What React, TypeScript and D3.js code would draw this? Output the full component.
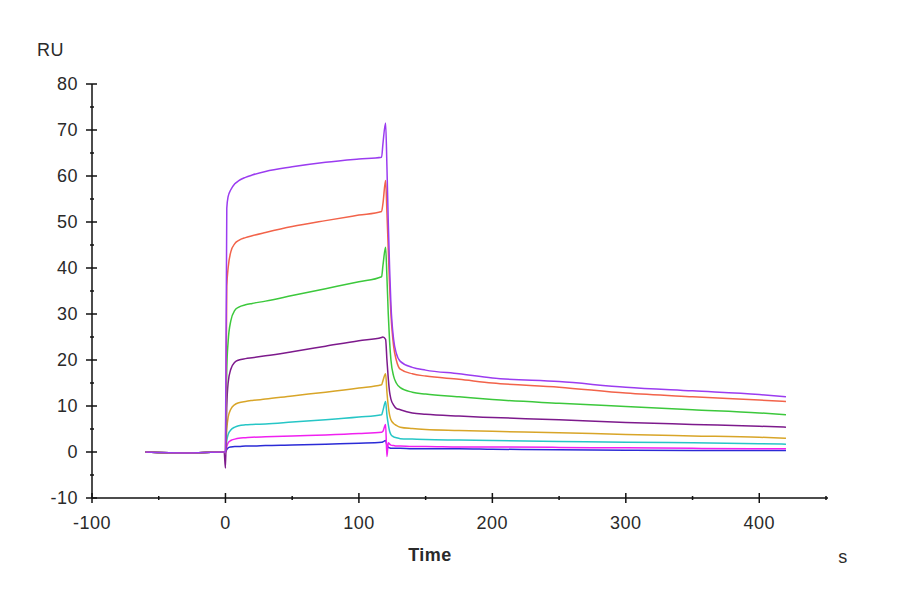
import * as d3 from "d3";

// sample times (s) shared by every sensorgram
const times = [-60, -30, -1, 0, 1, 2, 4, 7, 10, 15, 20, 30, 50, 75, 100, 117, 118, 120, 121, 122, 123, 124, 126, 128, 131, 140, 150, 175, 200, 250, 300, 350, 400, 420];

// response (RU), top curve first
const s1 = [0, -0.2, 0, 0, 53, 55.5, 57, 58.3, 59, 59.7, 60.2, 61, 62, 63, 63.7, 64.1, 67, 71.5, 62, 50, 40, 32, 24.5, 21.5, 19.7, 18.4, 17.8, 17, 16.1, 15.3, 14.1, 13.3, 12.5, 12];
const s2 = [0, -0.2, 0, 0, 36, 40, 43.5, 45.3, 46, 46.6, 47, 47.7, 49, 50.3, 51.5, 52.3, 54, 59, 52, 44, 36, 30, 23, 20, 18, 17, 16.5, 15.8, 15, 14.1, 12.8, 12, 11.3, 11];
const s3 = [0, -0.2, 0, 0, 18, 24, 28.5, 30.8, 31.5, 32, 32.3, 32.8, 34, 35.5, 37, 38.1, 40.5, 44.5, 38, 30, 24, 20, 16.5, 15, 14, 13, 12.6, 12, 11.4, 10.6, 9.9, 9.2, 8.5, 8.1];
const s4 = [0, -0.2, 0, -3.5, 10, 15, 18, 19.5, 20, 20.3, 20.5, 20.9, 21.8, 23, 24.2, 24.9, 25, 24.5, 20, 16, 13, 11.5, 10.2, 9.5, 9.2, 8.5, 8.2, 7.8, 7.5, 7, 6.4, 6, 5.6, 5.4];
const s5 = [0, -0.2, 0, 0, 5, 7.5, 9.3, 10.3, 10.7, 11, 11.2, 11.5, 12.2, 13, 13.9, 14.6, 15.5, 17, 13, 10, 8, 7, 6.2, 5.8, 5.4, 5.1, 4.9, 4.7, 4.5, 4.2, 3.8, 3.5, 3.2, 3];
const s6 = [0, -0.2, 0, 0, 2.5, 3.8, 4.8, 5.4, 5.7, 5.9, 6, 6.1, 6.5, 7, 7.6, 8.1, 9, 11, 8, 6, 4.5, 3.8, 3.3, 3.1, 2.9, 2.8, 2.7, 2.6, 2.5, 2.3, 2.1, 2, 1.8, 1.7];
const s7 = [0, -0.2, 0, 0, 1.2, 2, 2.5, 2.8, 3, 3.1, 3.2, 3.3, 3.5, 3.7, 4, 4.3, 4.5, 6, -1, 2, 1.7, 1.5, 1.4, 1.3, 1.3, 1.2, 1.2, 1.1, 1.1, 1, 0.9, 0.8, 0.7, 0.7];
const s8 = [0, -0.2, 0, 0, 0.5, 0.9, 1.1, 1.2, 1.2, 1.3, 1.3, 1.4, 1.5, 1.7, 1.9, 2.1, 2.2, 2.5, 1.5, 1, 0.9, 0.8, 0.8, 0.8, 0.8, 0.7, 0.7, 0.7, 0.6, 0.5, 0.4, 0.3, 0.3, 0.3];

const series = [s1, s2, s3, s4, s5, s6, s7, s8];
const colors = ["#9b3cf0", "#f2634a", "#3cc83c", "#7d1a8c", "#d8a528", "#26c6c6", "#f020f0", "#2b2bd6"];

const xTicks = [-100, 0, 100, 200, 300, 400];
const xMinor = [-50, 50, 150, 250, 350, 450];
const yTicks = [-10, 0, 10, 20, 30, 40, 50, 60, 70, 80];
const yMinor = [-5, 5, 15, 25, 35, 45, 55, 65, 75];

export default function App() {
  const x = d3.scaleLinear().domain([-100, 450]).range([92, 826]);
  const y = d3.scaleLinear().domain([-10, 80]).range([498, 84]);
  const line = d3.line<number>().x((_, i) => x(times[i])).y(d => y(d)).curve(d3.curveMonotoneX);
  const font = "'Liberation Sans', Arial, sans-serif";
  const x0 = x(-100), y0 = y(-10);

  // draw the lowest curve first so the top one sits over the shared baseline
  const order = series.map((_, i) => i).reverse();

  return (
    <svg width={900} height={600} style={{ position: "absolute", left: 0, top: 0, background: "#fff" }} fontFamily={font}>
      {order.map(i => (
        <path key={i} d={line(series[i]) ?? ""} fill="none" stroke={colors[i]} strokeWidth={1.5} />
      ))}

      <g stroke="#111" strokeWidth={1.5}>
        <line x1={x0} x2={x0} y1={y(80)} y2={y0} />
        <line x1={x0} x2={x(450) + 2} y1={y0} y2={y0} />
        {yTicks.map(t => <line key={"ym" + t} x1={x0 - 6} x2={x0 + 5} y1={y(t)} y2={y(t)} />)}
        {yMinor.map(t => <line key={"yn" + t} x1={x0 - 2} x2={x0 + 2} y1={y(t)} y2={y(t)} />)}
        {xTicks.map(t => <line key={"xm" + t} x1={x(t)} x2={x(t)} y1={y0 - 5} y2={y0 + 5} />)}
        {xMinor.map(t => <line key={"xn" + t} x1={x(t)} x2={x(t)} y1={y0 - 2} y2={y0 + 2} />)}
      </g>

      <g fill="#2a2a2a" fontSize={18} letterSpacing={0.5}>
        {yTicks.map(t => (
          <text key={"yl" + t} x={x0 - 14} y={y(t)} textAnchor="end" dominantBaseline="central">{t}</text>
        ))}
        {xTicks.map(t => (
          <text key={"xl" + t} x={x(t)} y={523} textAnchor="middle" dominantBaseline="central">{t}</text>
        ))}
        <text x={37} y={50} dominantBaseline="central">RU</text>
        <text x={430} y={555} textAnchor="middle" dominantBaseline="central" fontWeight="bold">Time</text>
        <text x={843} y={557} textAnchor="middle" dominantBaseline="central">s</text>
      </g>
    </svg>
  );
}
